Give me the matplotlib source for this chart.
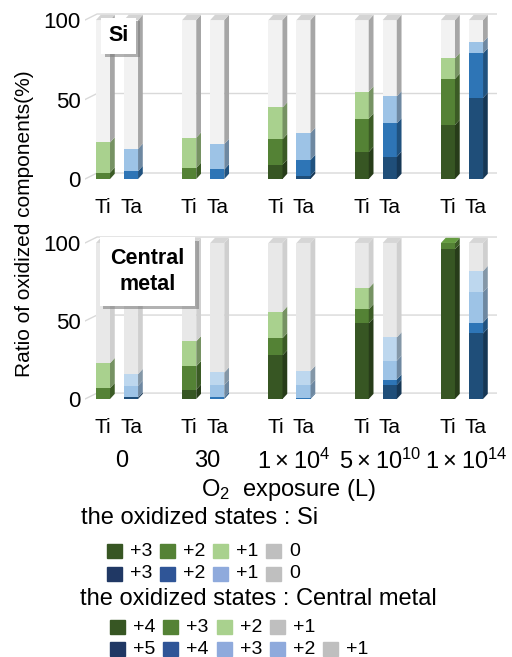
import matplotlib
matplotlib.use("Agg")
import matplotlib.pyplot as plt
import matplotlib.patheffects as pe
from matplotlib.patches import Rectangle
from matplotlib.colors import to_rgb
import numpy as np

plt.rcParams['font.family'] = ['Liberation Sans', 'DejaVu Sans']
plt.rcParams['mathtext.fontset'] = 'custom'
plt.rcParams['mathtext.rm'] = 'Liberation Sans'

# exposure groups
exposures = ['0', '30', r'$\mathregular{1\times10^{4}}$',
             r'$\mathregular{5\times10^{10}}$', r'$\mathregular{1\times10^{14}}$']

# Si oxidized states (%)
si_ti = {'+3': [0, 0, 9, 17, 34], '+2': [4, 7, 16, 21, 29], '+1': [19, 19, 20, 17, 13]}
si_ta = {'+3': [0, 0, 2, 14, 51], '+2': [5, 6, 10, 21, 28], '+1': [14, 16, 17, 17, 7]}

# central metal oxidized states (%)
cm_ti = {'+4': [0, 6, 28, 48.5, 96], '+3': [7, 15, 11, 9, 4], '+2': [16, 16, 17, 13.5, 0]}
cm_ta = {'+5': [1, 0, 0, 9, 42], '+4': [0, 1, 0.5, 3.5, 7],
         '+3': [7.5, 8, 8.5, 12, 19.5], '+2': [7.5, 8, 9, 15, 13.5]}

G = ['#375623', '#548235', '#A9D18E']
B = ['#1F4E79', '#2E75B6', '#9DC3E6', '#BDD7EE']

W, H = 512, 657
fig = plt.figure(figsize=(W / 100, H / 100), dpi=100)

def fx(px):
    return px / W

def fy(py):
    return 1 - py / H

def shade(c, f):
    r = np.array(to_rgb(c)) * f
    return tuple(np.clip(r, 0, 1))

XL, XR = -0.371, 4.406
DX, DY = 0.055, 3.3      # bar depth
GDX, GDY = 0.14, 3.8     # wall depth for gridlines
BW = 0.163

def bar3d(ax, x, segs, rest_color, rest_side, rest_top):
    b = 0
    last = None
    for val, col in segs:
        if val <= 0:
            continue
        ax.bar(x, val, BW, bottom=b, color=col, zorder=3)
        xs = x + BW / 2
        ax.fill([xs, xs + DX, xs + DX, xs], [b, b + DY, b + val + DY, b + val],
                color=shade(col, 0.7), zorder=3, lw=0)
        b += val
        last = col
    if b < 99.5:
        ax.bar(x, 100 - b, BW, bottom=b, color=rest_color, zorder=3)
        xs = x + BW / 2
        ax.fill([xs, xs + DX, xs + DX, xs], [b, b + DY, 100 + DY, 100],
                color=rest_side, zorder=3, lw=0)
        top_col = rest_top
    else:
        top_col = shade(last, 1.2)
    ax.fill([x - BW / 2, x + BW / 2, x + BW / 2 + DX, x - BW / 2 + DX],
            [100, 100, 100 + DY, 100 + DY], color=top_col, zorder=3, lw=0)

def panel(ax, ti, ta, ti_cols, ta_cols, rest, label, lx, ly, pad):
    ax.set_xlim(XL, XR)
    ax.set_ylim(-3, 106)
    for v in [0, 50, 100]:
        ax.plot([XL, XL + GDX, XR], [v, v + GDY, v + GDY], color='#D9D9D9', lw=1, zorder=1)
    keys_ti = list(ti.keys())
    keys_ta = list(ta.keys())
    for i in range(len(exposures)):
        bar3d(ax, i - 0.1625, [(ti[k][i], c) for k, c in zip(keys_ti, ti_cols)], *rest)
        bar3d(ax, i + 0.1625, [(ta[k][i], c) for k, c in zip(keys_ta, ta_cols)], *rest)
    xt = []
    for i in range(len(exposures)):
        xt += [i - 0.1625, i + 0.1625]
    ax.set_xticks(xt)
    ax.set_xticklabels(['Ti', 'Ta'] * len(exposures), fontsize=15)
    ax.set_yticks([0, 50, 100])
    ax.set_yticklabels(['0', '50', '100'], fontsize=16)
    ax.tick_params(length=0, pad=3)
    ax.tick_params(axis='x', pad=10)
    for s in ax.spines.values():
        s.set_visible(False)
    ax.patch.set_alpha(0)
    # label box with shadow
    t = ax.text(lx, ly, label, fontsize=15.5, fontweight='bold', ha='center', va='center',
                linespacing=1.3, zorder=6,
                bbox=dict(boxstyle='square,pad=%s' % pad, fc='white', ec='none'))
    t.get_bbox_patch().set_path_effects(
        [pe.SimplePatchShadow(offset=(2.5, -2.5), shadow_rgbFace='#7F7F7F', alpha=0.6), pe.Normal()])

ax1 = fig.add_axes([fx(85), fy(183.8), fx(497) - fx(85), (183.8 - 10.5) / H])
ax2 = fig.add_axes([fx(85), fy(403.7), fx(497) - fx(85), (403.7 - 233.6) / H])

panel(ax1, si_ti, si_ta, G, B[:3], ('#F2F2F2', '#A6A6A6', '#D4D4D4'), 'Si', 0.02, 90, 0.35)
panel(ax2, cm_ti, cm_ta, G, B, ('#E8E8E8', '#CFCFCF', '#D6D6D6'), 'Central\nmetal', 0.354, 81.7, 0.5)

# exposure labels
tr = matplotlib.transforms.blended_transform_factory(ax2.transData, fig.transFigure)
for i, lab in enumerate(exposures):
    ax2.text(i + 0.05, fy(461), lab, transform=tr, fontsize=17, ha='center', va='center')
fig.text(fx(288), fy(490), r'$\mathregular{O_2}$  exposure (L)', fontsize=17, ha='center', va='center')
fig.text(fx(25), fy(224), 'Ratio of oxidized components(%)', fontsize=15,
         rotation=90, ha='center', va='center')

# legend
fig.text(fx(81), fy(518), 'the oxidized states : Si', fontsize=17, ha='left', va='center')
fig.text(fx(80), fy(599), 'the oxidized states : Central metal', fontsize=17, ha='left', va='center')

green_leg = ['#375623', '#548235', '#A9D18E', '#BFBFBF']
blue_leg = ['#203864', '#2F5597', '#8FAADC', '#8FAADC', '#BFBFBF']
rows = [
    (551, 107, 53, green_leg, ['+3', '+2', '+1', '0']),
    (574, 107, 53, blue_leg[:3] + ['#BFBFBF'], ['+3', '+2', '+1', '0']),
    (627, 110, 53.3, green_leg, ['+4', '+3', '+2', '+1']),
    (649, 110, 53.3, blue_leg, ['+5', '+4', '+3', '+2', '+1']),
]
for y, x0, step, cols, labs in rows:
    for j, (c, t) in enumerate(zip(cols, labs)):
        x = x0 + j * step
        fig.patches.append(Rectangle((fx(x), fy(y + 7)), 15 / W, 14 / H, color=c,
                                     transform=fig.transFigure, figure=fig))
        fig.text(fx(x + 23), fy(y), t, fontsize=14, ha='left', va='center')

plt.savefig('out.png', dpi=100)
